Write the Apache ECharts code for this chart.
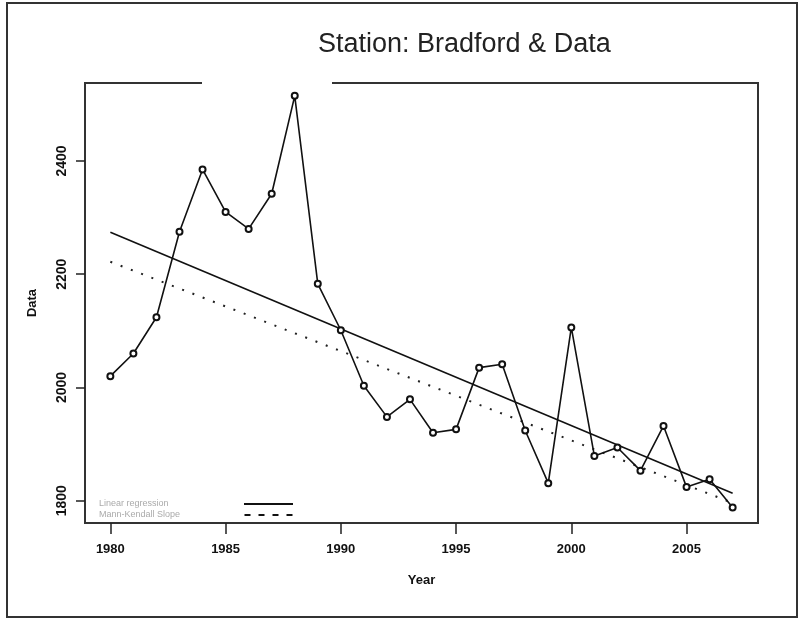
<!DOCTYPE html>
<html>
<head>
<meta charset="utf-8">
<script src="https://cdn.jsdelivr.net/npm/echarts@6/dist/echarts.min.js"></script>
<style>
  html, body { margin: 0; padding: 0; background: #fff; }
  #chart { width: 801px; height: 621px; }
</style>
</head>
<body>
<div id="chart"></div>
<script>
// ---- data ----
const years = [1980, 1981, 1982, 1983, 1984, 1985, 1986, 1987, 1988, 1989,
               1990, 1991, 1992, 1993, 1994, 1995, 1996, 1997, 1998, 1999,
               2000, 2001, 2002, 2003, 2004, 2005, 2006, 2007];
const values = [2020, 2060, 2124, 2275, 2385, 2310, 2280, 2342, 2515, 2183,
                2101, 2003, 1948, 1979, 1920, 1926, 2035, 2041, 1924, 1831,
                2106, 1879, 1894, 1853, 1932, 1824, 1838, 1788];
const trendYears = [1980, 2007];
const linearRegression = [2274, 1813];
const mannKendall = [2222, 1796];
const xTicks = [1980, 1985, 1990, 1995, 2000, 2005];
const yTicks = [1800, 2000, 2200, 2400];
const titleText = 'Station: Bradford & Data';

const chart = echarts.init(document.getElementById('chart'));
const pair = (xs, ys) => xs.map((x, i) => [x, ys[i]]);

chart.setOption({
  animation: false,
  backgroundColor: '#fff',
  title: {
    text: titleText,
    left: 313,
    top: 26,
    textStyle: { fontFamily: 'Liberation Sans', fontSize: 27, fontWeight: 'normal', color: '#222' }
  },
  grid: {
    left: 85, right: 43, top: 83, bottom: 98,
    show: true, borderColor: '#333', borderWidth: 2, backgroundColor: 'transparent'
  },
  legend: {
    orient: 'vertical',
    left: 99,
    top: 499,
    align: 'right',
    itemWidth: 49,
    itemHeight: 2,
    itemGap: 1,
    padding: 0,
    formatter: name => '{t|' + name + '}',
    textStyle: {
      fontFamily: 'Liberation Sans', fontSize: 9, color: '#aaa',
      rich: { t: { width: 140, height: 10, lineHeight: 10, align: 'left', fontSize: 9, color: '#aaa', fontFamily: 'Liberation Sans' } }
    },
    data: [
      { name: 'Linear regression', icon: 'rect', itemStyle: { color: '#111' } },
      { name: 'Mann-Kendall Slope',
        icon: 'path://M0,0h6v2h-6z M14,0h6v2h-6z M28,0h6v2h-6z M42,0h6v2h-6z',
        itemStyle: { color: '#111' } }
    ]
  },
  xAxis: {
    type: 'value',
    min: 1978.9,
    max: 2008.1,
    name: 'Year',
    nameLocation: 'middle',
    nameGap: 51,
    nameTextStyle: { fontFamily: 'Liberation Sans', fontSize: 13, fontWeight: 'bold', color: '#111' },
    splitLine: { show: false },
    axisLine: { show: true, lineStyle: { color: '#333', width: 2 } },
    axisTick: { show: true, customValues: xTicks, length: 11, lineStyle: { color: '#222', width: 1.5 } },
    axisLabel: {
      customValues: xTicks, margin: 20,
      fontFamily: 'Liberation Sans', fontSize: 13, fontWeight: 'bold', color: '#111',
      formatter: v => String(v)
    }
  },
  yAxis: {
    type: 'value',
    min: 1760.6,
    max: 2537.7,
    name: 'Data',
    nameLocation: 'middle',
    nameGap: 46,
    nameRotate: 90,
    nameTextStyle: { fontFamily: 'Liberation Sans', fontSize: 13, fontWeight: 'bold', color: '#111' },
    splitLine: { show: false },
    axisLine: { show: true, lineStyle: { color: '#333', width: 2 } },
    axisTick: { show: true, customValues: yTicks, length: 9, lineStyle: { color: '#222', width: 1.5 } },
    axisLabel: {
      customValues: yTicks, rotate: 90, margin: 16,
      fontFamily: 'Liberation Sans', fontSize: 14, fontWeight: 'bold', color: '#111',
      formatter: v => String(v)
    }
  },
  series: [
    {
      name: 'Data',
      type: 'line',
      data: pair(years, values),
      symbol: 'emptyCircle',
      symbolSize: 6,
      itemStyle: { color: '#111', borderColor: '#111', borderWidth: 1.2 },
      lineStyle: { color: '#111', width: 1.6 },
      z: 3
    },
    {
      name: 'Linear regression',
      type: 'line',
      data: pair(trendYears, linearRegression),
      symbol: 'none',
      lineStyle: { color: '#111', width: 1.6, type: 'solid' },
      itemStyle: { color: '#111' },
      z: 2
    },
    {
      name: 'Mann-Kendall Slope',
      type: 'line',
      data: pair(trendYears, mannKendall),
      symbol: 'none',
      lineStyle: { color: '#222', width: 2, type: [2, 9] },
      itemStyle: { color: '#222' },
      z: 2
    }
  ],
  graphic: [
    {
      type: 'rect',
      shape: { x: 7, y: 3, width: 790, height: 614 },
      style: { fill: 'none', stroke: '#333', lineWidth: 2 },
      silent: true
    },
    {
      type: 'rect',
      shape: { x: 202, y: 79, width: 130, height: 7 },
      style: { fill: '#fff' },
      z: 100,
      silent: true
    }
  ]
});
</script>
</body>
</html>
